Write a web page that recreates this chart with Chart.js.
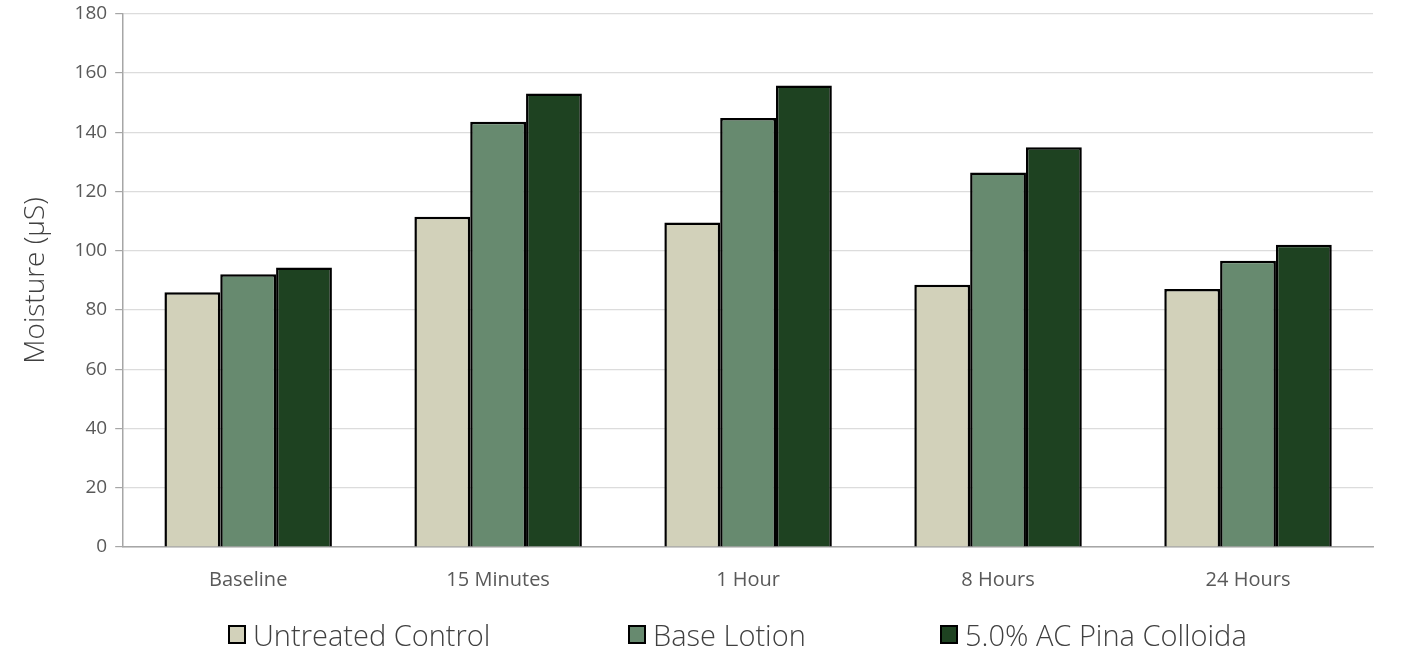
<!DOCTYPE html>
<html>
<head>
<meta charset="utf-8">
<script src="https://cdn.jsdelivr.net/npm/chart.js@4"></script>
<style>
  body { margin: 0; background: #fff; }
  #wrap { position: relative; width: 1410px; height: 654px; }
  #legend { position: absolute; left: 0; top: 615px; width: 1410px; height: 40px;
    font-family: "Open Sans", sans-serif; font-weight: 300; font-size: 29px; color: #404040; }
  .item { position: absolute; top: 0; display: flex; align-items: center; white-space: nowrap; }
  .box { width: 18px; height: 19px; border: 2px solid #000; margin-right: 7px; box-sizing: border-box; }
</style>
</head>
<body>
<div id="wrap">
  <canvas id="moistureChart" width="1410" height="654"></canvas>
  <div id="legend"></div>
</div>
<script>
// datos
var categorias = ['Baseline', '15 Minutes', '1 Hour', '8 Hours', '24 Hours'];
var untreated = [86.0, 111.5, 109.5, 88.5, 87.1];
var baseLotion = [92.1, 143.5, 144.8, 126.4, 96.6];
var pinaColloida = [94.3, 153.1, 155.8, 134.9, 102.0];
var nombres = ['Untreated Control', 'Base Lotion', '5.0% AC Pina Colloida'];
var colores = ['#D2D1BA', '#678A6F', '#1E4221'];
var legendX = [228, 628, 940];

var series = [untreated, baseLotion, pinaColloida];
var datasets = series.map(function(s, i) {
    return {
        label: nombres[i],
        data: s,
        backgroundColor: colores[i],
        borderColor: '#000000',
        borderWidth: 2.5,
        borderSkipped: 'bottom',
        categoryPercentage: 0.67,
        barPercentage: 1.0
    };
});

var chart = new Chart(document.getElementById('moistureChart'), {
    type: 'bar',
    data: { labels: categorias, datasets: datasets },
    options: {
        responsive: false,
        animation: false,
        layout: { padding: { left: 15, right: 37, top: 1, bottom: 49 } },
        plugins: { legend: { display: false }, tooltip: { enabled: false } },
        scales: {
            x: {
                grid: { display: false },
                border: { display: true, color: '#a6a6a6', width: 1.5 },
                ticks: { color: '#595959', padding: 13, font: { family: 'Open Sans', size: 20, weight: 400 } }
            },
            y: {
                min: 0,
                max: 180,
                ticks: { stepSize: 20, color: '#595959', padding: 8,
                    font: { family: 'Open Sans', size: 19, weight: 400, lineHeight: 0.6 } },
                grid: { color: '#dcdcdc', lineWidth: 1.2, tickLength: 8, tickColor: '#a6a6a6' },
                border: { display: true, color: '#a6a6a6', width: 1.5 },
                title: { display: true, text: 'Moisture (µS)', color: '#404040', padding: { bottom: 14 },
                    font: { family: 'Open Sans', size: 28, weight: 300 } }
            }
        }
    }
});

// leyenda
var legend = document.getElementById('legend');
nombres.forEach(function(n, i) {
    var it = document.createElement('div');
    it.className = 'item';
    it.style.left = legendX[i] + 'px';
    it.innerHTML = '<span class="box" style="background:' + colores[i] + '"></span><span>' + n + '</span>';
    legend.appendChild(it);
});
</script>
</body>
</html>
